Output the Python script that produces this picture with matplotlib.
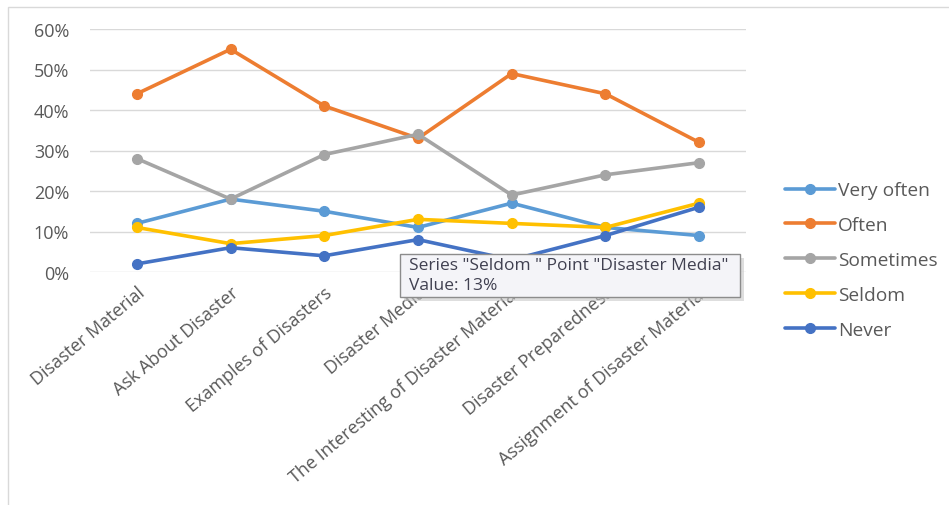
import matplotlib.pyplot as plt
from matplotlib.patches import Rectangle, FancyBboxPatch
from matplotlib.ticker import PercentFormatter

plt.rcParams['font.family'] = ['Open Sans', 'DejaVu Sans']

categories = ["Disaster Material", "Ask About Disaster", "Examples of Disasters",
              "Disaster Media", "The Interesting of Disaster Material",
              "Disaster Preparedness", "Assignment of Disaster Material"]

very_often = [12, 18, 15, 11, 17, 11, 9]
often = [44, 55, 41, 33, 49, 44, 32]
sometimes = [28, 18, 29, 34, 19, 24, 27]
seldom = [11, 7, 9, 13, 12, 11, 17]
never = [2, 6, 4, 8, 3, 9, 16]

series = [("Very often", very_often, "#5B9BD5"),
          ("Often", often, "#ED7D31"),
          ("Sometimes", sometimes, "#A5A5A5"),
          ("Seldom", seldom, "#FFC000"),
          ("Never", never, "#4472C4")]

fig = plt.figure(figsize=(9.49, 5.06), dpi=100)
W, H = 949, 506

# outer chart frame
fig.patches.append(Rectangle((8 / W, -0.01), 1.0, 1 - 8 / H + 0.01, transform=fig.transFigure,
                             fill=False, edgecolor="#D9D9D9", linewidth=1.0))

ax = fig.add_axes([90 / W, (H - 273) / H, (746 - 90) / W, (273 - 30) / H])
x = range(len(categories))
for name, vals, col in series:
    ax.plot(x, vals, color=col, linewidth=2.6, marker="o", markersize=7,
            label=name, solid_capstyle="round")

ax.set_xlim(-0.5, len(categories) - 0.5)
ax.set_ylim(0, 60)
ax.set_yticks(range(0, 61, 10))
ax.yaxis.set_major_formatter(PercentFormatter(decimals=0))
ax.grid(axis="y", color="#D9D9D9", linewidth=1.0)
ax.set_axisbelow(True)
for s in ax.spines.values():
    s.set_visible(False)
ax.tick_params(axis="both", length=0, colors="#595959")
ax.tick_params(axis="y", pad=15, labelsize=13)
ax.set_xticks(list(x))
ax.set_xticklabels(categories, rotation=40, ha="right", va="top",
                   rotation_mode="anchor", fontsize=13)
ax.tick_params(axis="x", pad=8)

leg = fig.legend(loc="upper left", bbox_to_anchor=(768 / W, (H - 165) / H),
                 frameon=False, fontsize=13.8, handlelength=2.6, labelspacing=0.88,
                 handletextpad=0.15, labelcolor="#595959")

# hover tooltip box
shadow = FancyBboxPatch((404 / W, (H - 302) / H), 340 / W, 43 / H,
                        boxstyle="square,pad=0", transform=fig.transFigure,
                        facecolor="#C8C8C8", edgecolor="none", alpha=0.6, zorder=9)
box = FancyBboxPatch((400 / W, (H - 298) / H), 340 / W, 43 / H,
                     boxstyle="square,pad=0", transform=fig.transFigure,
                     facecolor="#F4F4F8", edgecolor="#8C8C8C", linewidth=1.0, zorder=10)
fig.patches.extend([shadow, box])
fig.text(409 / W, (H - 266) / H, 'Series "Seldom " Point "Disaster Media"',
         fontsize=12.5, color="#404050", va="center", ha="left", zorder=11)
fig.text(409 / W, (H - 286) / H, "Value: 13%",
         fontsize=12.5, color="#404050", va="center", ha="left", zorder=11)

fig.savefig("out.png", dpi=100)
